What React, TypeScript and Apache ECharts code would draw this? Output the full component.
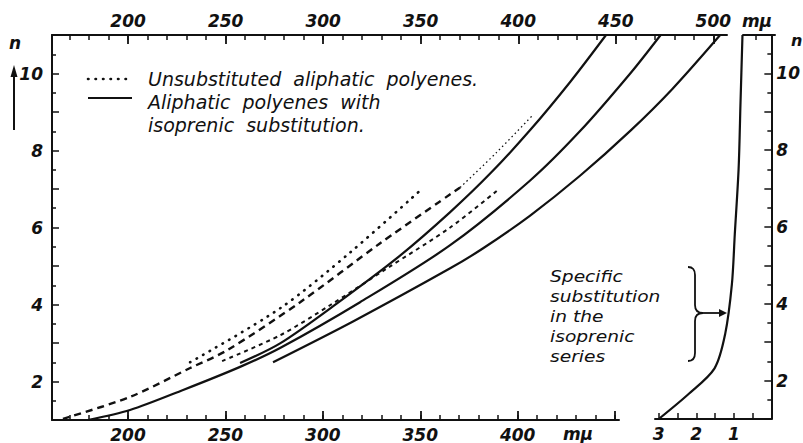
import { useEffect, useRef } from "react";
import * as echarts from "echarts";

// ---- main panel: absorption maximum (mμ) against number of double bonds n ----
// common start + coarse dashed branch
const dash1Nm = [166.6, 201.0, 231.8, 250.7, 288.2, 329.2, 370.2];
const dash1N = [1.03, 1.6, 2.35, 2.81, 4.06, 5.59, 7.04];
// faint dotted continuation of the coarse dashed branch
const dash1ExtNm = [370.2, 388.7, 407.1];
const dash1ExtN = [7.04, 7.94, 8.9];
// dotted: unsubstituted aliphatic polyenes
const dot1Nm = [231.8, 277.9, 313.8, 349.7];
const dot1N = [2.5, 3.9, 5.35, 6.96];
// fine dashed branch
const dash2Nm = [248.2, 277.9, 303.5, 332.8, 365.1, 389.7];
const dash2N = [2.53, 3.2, 3.98, 4.94, 6.0, 6.98];
// solid: aliphatic polyenes with isoprenic substitution
const solidANm = [257.4, 277.9, 307.1, 339.4, 365.1, 385.6, 406.1, 426.6, 445.0];
const solidAN = [2.48, 2.99, 4.03, 5.27, 6.4, 7.4, 8.53, 9.78, 11.0];
const solidBNm = [179.4, 201.0, 228.2, 257.4, 277.9, 318.9, 365.1, 406.1, 431.8, 457.4, 473.0];
const solidBN = [1.0, 1.26, 1.78, 2.38, 2.87, 4.06, 5.54, 7.22, 8.51, 10.0, 11.0];
const solidCNm = [274.3, 315.3, 365.1, 382.0, 406.1, 431.8, 457.4, 479.0, 503.5];
const solidCN = [2.5, 3.56, 4.94, 5.46, 6.31, 7.35, 8.51, 9.6, 11.0];

// ---- right panel ----
const shiftVals = [3.0, 2.205, 1.513, 1.231, 1.051, 0.974, 0.872, 0.821, 0.769];
const shiftN = [1.0, 1.65, 2.32, 3.21, 4.51, 5.81, 7.52, 9.26, 11.0];

// ---- tick labels ----
const topLabels = [200, 250, 300, 350, 400, 450, 500];
const bottomLabels = [200, 250, 300, 350, 400];
const bottomMajor = [200, 250, 300, 350, 400, 450];
const shiftLabels = [3, 2, 1];
const shiftTicks = [3, 2.5, 2, 1.5, 1, 0.5];
const nLabels = [2, 4, 6, 8, 10];

const legendDotted = "Unsubstituted  aliphatic  polyenes.";
const legendSolid = "Aliphatic  polyenes  with\nisoprenic  substitution.";
const noteText = "Specific\nsubstitution\nin the\nisoprenic\nseries";

const FONT = "DejaVu Sans";
const INK = "#111";

echarts.graphic.registerShape(
  "brace",
  echarts.graphic.extendPath(
    "M0,0 Q7,0 7,8 L7,38 Q7,46 15,46 Q7,46 7,54 L7,86 Q7,94 0,94",
    {}
  )
);

const zip = (a: number[], b: number[]) => a.map((v, i) => [v, b[i]]);
const range = (from: number, to: number, step: number) => {
  const out: number[] = [];
  for (let v = from; v <= to + 1e-9; v += step) out.push(Math.round(v * 100) / 100);
  return out;
};

const labelStyle = {
  fontFamily: FONT,
  fontStyle: "italic" as const,
  fontWeight: "bold" as const,
  fontSize: 17,
  color: INK,
};

export default function App() {
  const ref = useRef<HTMLDivElement>(null);
  useEffect(() => {
    if (!ref.current) return;
    const chart = echarts.init(ref.current, undefined, { renderer: "svg" });
    const axisLine = { show: true, onZero: false, lineStyle: { color: INK, width: 2 } };
    const noLine = { show: false, onZero: false };
    const nFormatter = (v: number) => (nLabels.includes(v) ? String(v) : "");
    const lineSeries = (
      name: string,
      data: number[][],
      width: number,
      type: any,
      xi = 0,
      yi = 0,
      extra: any = {}
    ) => ({
      name,
      type: "line",
      xAxisIndex: xi,
      yAxisIndex: yi,
      data,
      symbol: "none",
      smooth: 0.3,
      lineStyle: { color: INK, width, type, ...extra },
      silent: true,
    });

    chart.setOption({
      animation: false,
      backgroundColor: "#fff",
      grid: [
        { left: 52, right: 76, top: 35, bottom: 23 },
        { left: 52, right: 184, top: 35, bottom: 23 },
        { left: 655, right: 28, top: 35, bottom: 24 },
        { left: 743, right: 28, top: 35, height: 10 },
      ],
      xAxis: [
        {
          gridIndex: 0, type: "value", position: "top", min: 161, max: 507,
          axisLine,
          axisTick: { customValues: range(170, 500, 10), inside: true, length: 5, lineStyle: { color: INK, width: 1.5 } },
          axisLabel: { ...labelStyle, customValues: topLabels, margin: 6 },
          splitLine: { show: false },
        },
        {
          gridIndex: 0, type: "value", position: "top", min: 161, max: 507,
          axisLine: noLine,
          axisTick: { customValues: topLabels, inside: true, length: 9, lineStyle: { color: INK, width: 1.8 } },
          axisLabel: { show: false },
          splitLine: { show: false },
        },
        {
          gridIndex: 1, type: "value", position: "bottom", min: 161, max: 452,
          axisLine,
          axisTick: { customValues: range(170, 450, 10), inside: true, length: 5, lineStyle: { color: INK, width: 1.5 } },
          axisLabel: { ...labelStyle, customValues: bottomLabels, margin: 6 },
          splitLine: { show: false },
        },
        {
          gridIndex: 1, type: "value", position: "bottom", min: 161, max: 452,
          axisLine: noLine,
          axisTick: { customValues: bottomMajor, inside: true, length: 9, lineStyle: { color: INK, width: 1.8 } },
          axisLabel: { show: false },
          splitLine: { show: false },
        },
        {
          gridIndex: 2, type: "value", position: "bottom", min: 0, max: 3.1, inverse: true,
          axisLine,
          axisTick: { customValues: shiftTicks, inside: true, length: 6, lineStyle: { color: INK, width: 1.5 } },
          axisLabel: { ...labelStyle, customValues: shiftLabels, margin: 6 },
          splitLine: { show: false },
        },
        {
          gridIndex: 3, type: "value", position: "top", min: 0, max: 0.83, inverse: true,
          axisLine,
          axisTick: { customValues: [0.5], inside: true, length: 5, lineStyle: { color: INK, width: 1.5 } },
          axisLabel: { show: false },
          splitLine: { show: false },
        },
      ],
      yAxis: [
        {
          gridIndex: 0, type: "value", position: "left", min: 1, max: 11, interval: 1,
          axisLine,
          axisTick: { inside: true, length: 7, lineStyle: { color: INK, width: 1.5 } },
          minorTick: { show: true, splitNumber: 2, length: 4, lineStyle: { color: INK, width: 1.5 } },
          axisLabel: { ...labelStyle, formatter: nFormatter, margin: 9 },
          splitLine: { show: false },
        },
        { gridIndex: 1, type: "value", min: 1, max: 11, show: false },
        {
          gridIndex: 2, type: "value", position: "right", min: 1, max: 11, interval: 1,
          axisLine,
          axisTick: { inside: true, length: 7, lineStyle: { color: INK, width: 1.5 } },
          minorTick: { show: true, splitNumber: 2, length: 4, lineStyle: { color: INK, width: 1.5 } },
          axisLabel: { ...labelStyle, formatter: nFormatter, margin: 5 },
          splitLine: { show: false },
        },
        { gridIndex: 3, type: "value", min: 0, max: 1, show: false },
      ],
      series: [
        lineSeries("common-dashed", zip(dash1Nm, dash1N), 2.4, [7, 5]),
        lineSeries("dashed-ext", zip(dash1ExtNm, dash1ExtN), 1.3, [1.5, 3]),
        lineSeries("Unsubstituted aliphatic polyenes", zip(dot1Nm, dot1N), 2.6, [0.5, 7], 0, 0, { cap: "round" }),
        lineSeries("fine-dashed", zip(dash2Nm, dash2N), 2, [4, 4]),
        lineSeries("Isoprenic A", zip(solidANm, solidAN), 2.2, "solid"),
        lineSeries("Isoprenic B", zip(solidBNm, solidBN), 2.2, "solid"),
        lineSeries("Isoprenic C", zip(solidCNm, solidCN), 2.2, "solid"),
        lineSeries("Specific substitution", zip(shiftVals, shiftN), 2.2, "solid", 4, 2),
      ],
      graphic: [
        // legend
        { type: "line", shape: { x1: 88, y1: 79, x2: 132, y2: 79 }, style: { stroke: INK, lineWidth: 2.6, lineDash: [0.5, 7], lineCap: "round" } },
        { type: "text", x: 148, y: 79, style: { text: legendDotted, font: `italic 19px '${FONT}'`, fill: INK, verticalAlign: "middle" } },
        { type: "line", shape: { x1: 88, y1: 98, x2: 132, y2: 98 }, style: { stroke: INK, lineWidth: 2.2 } },
        { type: "text", x: 148, y: 90, style: { text: legendSolid, font: `italic 19px '${FONT}'`, lineHeight: 23, fill: INK, verticalAlign: "top" } },
        // annotation
        { type: "text", x: 550, y: 266, scaleX: 1.13, style: { text: noteText, font: `italic 16.5px '${FONT}'`, lineHeight: 20, fill: INK, verticalAlign: "top" } },
        { type: "brace", x: 688, y: 267, style: { stroke: INK, fill: "none", lineWidth: 1.8 } },
        { type: "line", shape: { x1: 703, y1: 313, x2: 720, y2: 313 }, style: { stroke: INK, lineWidth: 1.8 } },
        { type: "polygon", shape: { points: [[727, 313], [719, 309], [719, 317]] }, style: { fill: INK } },
        // n axis titles
        { type: "text", x: 15, y: 43, style: { text: "n", font: `italic bold 17px '${FONT}'`, fill: INK, align: "center", verticalAlign: "middle" } },
        { type: "line", shape: { x1: 14, y1: 130, x2: 14, y2: 74 }, style: { stroke: INK, lineWidth: 2 } },
        { type: "polygon", shape: { points: [[14, 65], [10.5, 77], [17.5, 77]] }, style: { fill: INK } },
        { type: "text", x: 791, y: 40, style: { text: "n", font: `italic bold 16px '${FONT}'`, fill: INK, align: "left", verticalAlign: "middle" } },
        // units
        { type: "text", x: 757, y: 21, style: { text: "mμ", font: `italic bold 17px '${FONT}'`, fill: INK, align: "center", verticalAlign: "middle" } },
        { type: "text", x: 578, y: 434, style: { text: "mμ", font: `italic bold 17px '${FONT}'`, fill: INK, align: "center", verticalAlign: "middle" } },
      ],
    });
    return () => chart.dispose();
  }, []);
  return (
    <div
      ref={ref}
      style={{ position: "fixed", left: 0, top: 0, width: 803, height: 443, background: "#fff" }}
    />
  );
}
